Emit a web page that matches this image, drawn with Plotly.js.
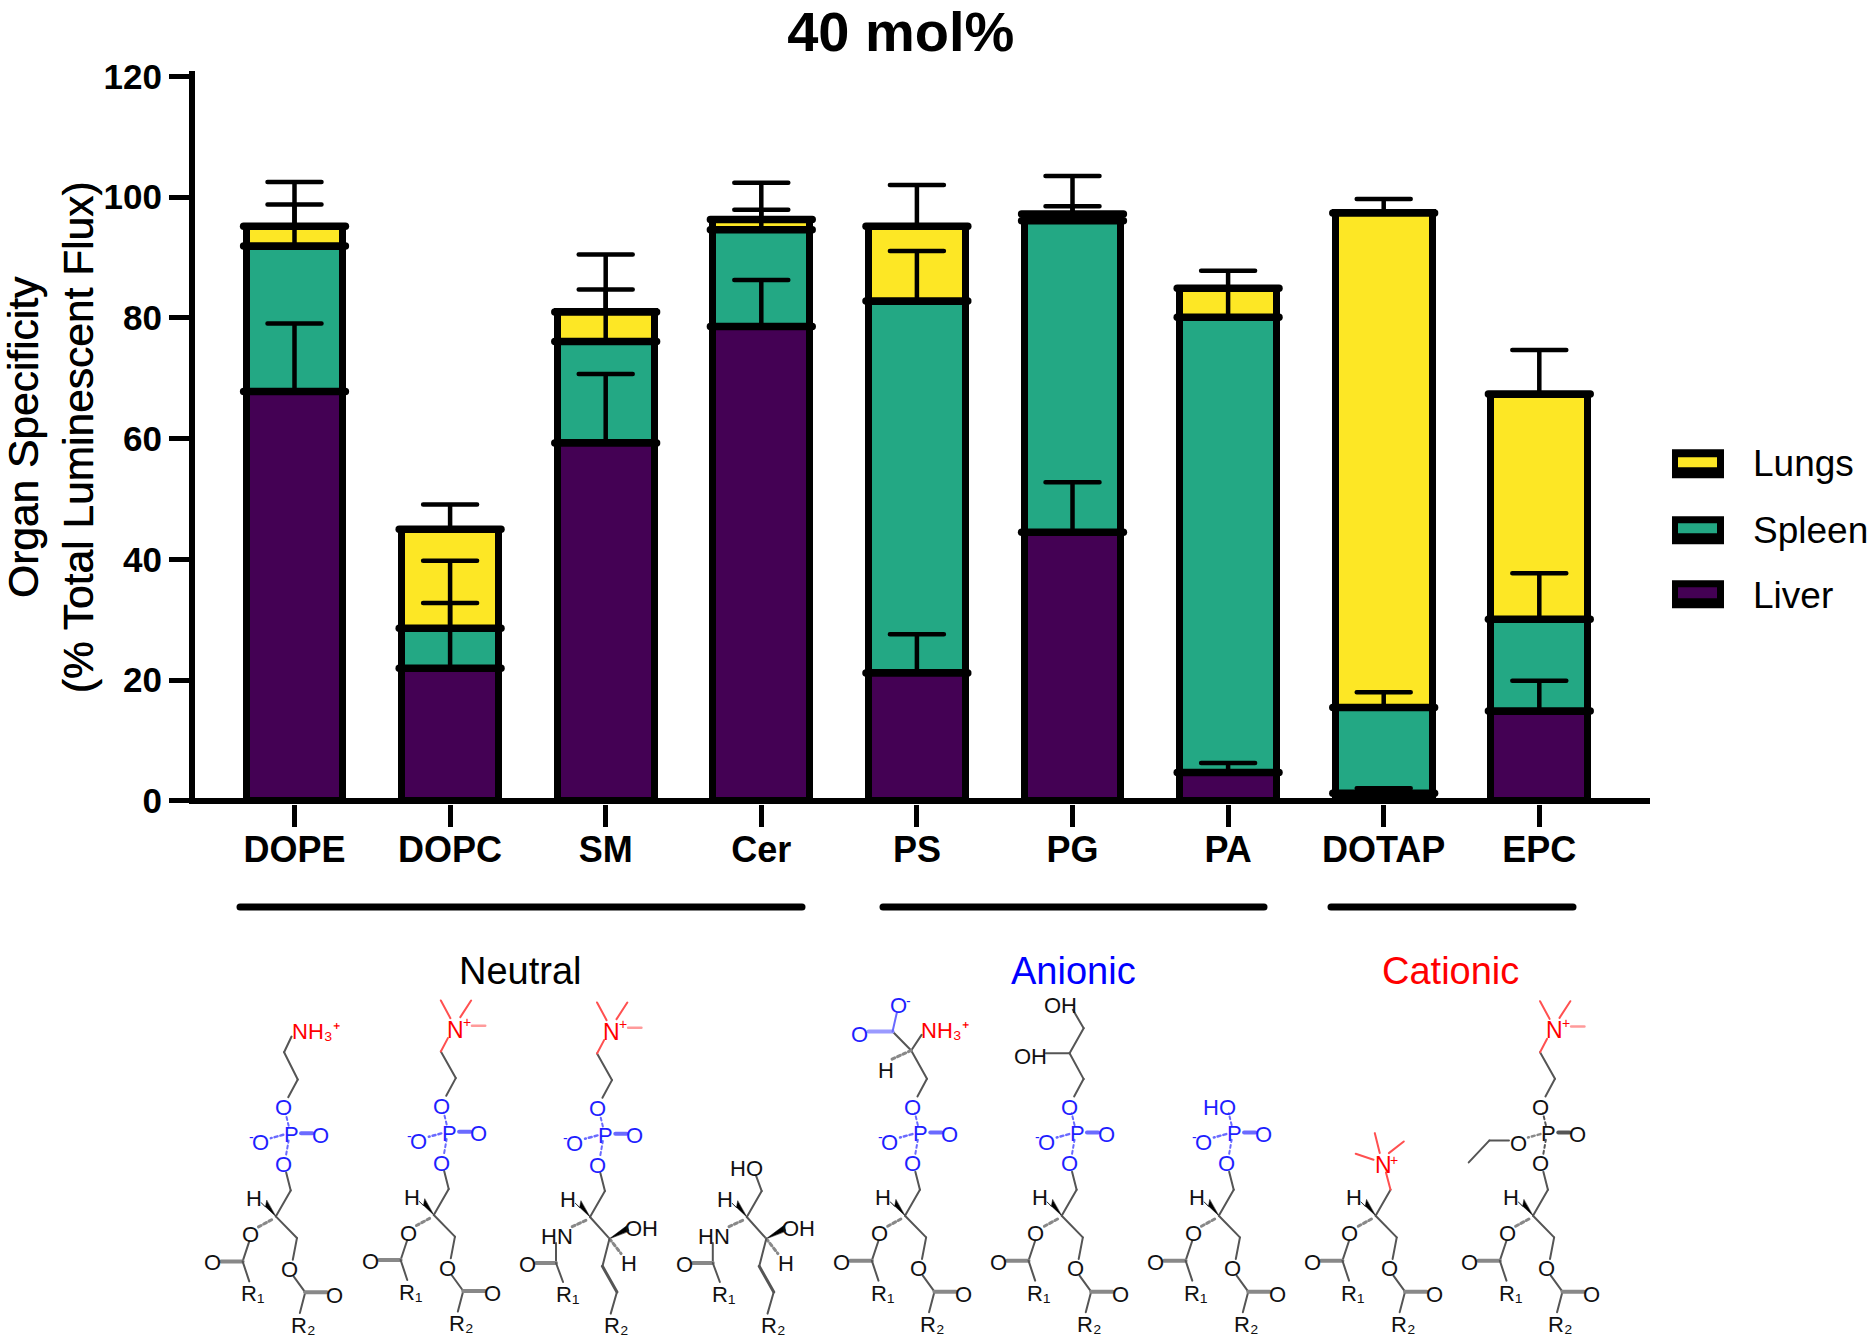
<!DOCTYPE html>
<html><head><meta charset="utf-8">
<script src="https://cdn.plot.ly/plotly-3.0.1.min.js"></script>
<style>
html,body{margin:0;padding:0;background:#fff}
.scatterlayer .js-line{stroke-linecap:round}
.errorbar path{stroke-linecap:round}
.shapelayer path{stroke-linecap:round}
</style></head><body>
<div id="chart" style="width:1874px;height:1338px"></div>
<script>
const categories=['DOPE','DOPC','SM','Cer','PS','PG','PA','DOTAP','EPC'];
const liver =[67.8,22.0,59.3,78.6,21.2,44.5,4.7,1.3,14.9];
const spleen=[24.1,6.6,16.8,16.0,61.6,51.6,75.4,14.2,15.2];
const lungs =[3.3,16.4,4.9,1.7,12.4,1.1,4.8,81.9,37.3];
const liverErr =[11.3,10.8,11.4,7.7,6.4,8.3,1.6,0.8,5.0];
const spleenErr=[6.9,11.2,8.6,3.3,8.3,2.4,4.9,2.5,7.6];
const lungsErr =[7.3,4.1,9.5,6.1,6.8,6.3,2.9,2.3,7.3];
const yTicks=[0,20,40,60,80,100,120];
const colors={Liver:'#440154',Spleen:'#23a884',Lungs:'#fde725'};
const FONT='"Liberation Sans",Arial,sans-serif';

/* plot box in page pixels */
const L=195,R=1650,T=70.5,B=804;
const px=x=>(x-L)/(R-L), py=y=>(B-y)/(B-T);
const shapes=[],annotations=[];
function line(x0,y0,x1,y1,color,width,dash){
  shapes.push({type:'line',xref:'paper',yref:'paper',x0:px(x0),y0:py(y0),x1:px(x1),y1:py(y1),
    line:{color:color,width:width,dash:dash||'solid'}});
}
function rect(x0,y0,x1,y1,fill){
  shapes.push({type:'rect',xref:'paper',yref:'paper',x0:px(x0),y0:py(y0),x1:px(x1),y1:py(y1),
    fillcolor:fill,line:{width:0}});
}
function tri(p,fill){
  shapes.push({type:'path',xref:'paper',yref:'paper',fillcolor:fill,line:{color:fill,width:0.5},
    path:'M'+p.map(q=>px(q[0])+','+py(q[1])).join('L')+'Z'});
}
function text(t,x,y,size,color,anchor){
  annotations.push({text:t,xref:'paper',yref:'paper',x:px(x),y:py(y),showarrow:false,
    xanchor:anchor||'center',yanchor:'middle',font:{family:FONT,size:size,color:color||'#000'},borderpad:0,borderwidth:0});
}

/* legend */
[['Lungs',449,478,457,467,463],['Spleen',516,544,523,533,530],['Liver',580,608,587,598,595]].forEach(l=>{
  rect(1672,l[1],1724,l[2],'#000');
  rect(1678,l[3],1717,l[4],colors[l[0]]);
  text(l[0],1753,l[5],37,'#000','left');
});

/* class bars and labels */
[[240,802,'Neutral',520,'#000'],[883,1264,'Anionic',1073,'#0000ff'],[1331,1573,'Cationic',1450,'#ff0000']].forEach(g=>{
  line(g[0],907,g[1],907,'#000',7);
  text(g[2],g[3],971,38,g[4]);
});

/* chemical structures */
const GR='#555',BL='#6a6aff',RD='#ff5050',LB='#1f1fff',LR='#ff0000',LK='#111';
function mol(cx,cy,o){
  const X=d=>cx+d/2.412,Y=d=>cy+d/3;
  const b=(a,c,d,e,col,w,dash)=>line(X(a),Y(c),X(d),Y(e),col||GR,w||2,dash);
  const t=(s,a,c,col,size,anc)=>text(s,X(a),Y(c)+1.5,size||22,col||LK,anc);
  /* shared */
  b(0,0,36,-78);
  tri([[X(0),Y(0)],[X(-36),Y(-42)],[X(-25),Y(-28)],[X(-22),Y(-48)]],'#000');
  t('H',-52,-58);
  if(o.back==='sph'){
    b(-10,10,-45,30,'#888',3,'dot');
    t('HN',-80,55);
    b(-82,78,-82,138);
    b(-82,138,-130,138,'#888',4);
    t('O',-150,138);
    b(-82,138,-65,195);
    t('R₁',-55,228);
    b(0,0,47,65);
    tri([[X(47),Y(65)],[X(90),Y(25)],[X(94),Y(42)]],'#000');
    t('OH',125,30);
    b(47,65,75,110,'#888',3,'dot');
    t('H',95,136);
    b(47,65,30,148);
    b(30,148,65,225,GR,3);
    b(65,225,50,290);
    t('R₂',63,322);
  } else {
    b(0,0,51,65);
    b(51,65,41,130);
    t('O',33,155);
    b(43,180,71,228);
    b(71,228,58,290);
    b(71,228,123,228,'#888',4);
    t('O',141,232);
    t('R₂',65,322);
    b(-10,10,-47,35,'#888',3,'dot');
    t('O',-62,50);
    b(-64,75,-80,135);
    b(-80,135,-132,135,'#888',4);
    t('O',-152,135);
    b(-80,135,-64,195);
    t('R₁',-55,228);
  }
  /* phosphate */
  if(o.phos){
    const c=o.phos==='black'?LK:LB, bc=o.phos==='black'?GR:BL;
    b(36,-78,25,-132);
    t('O',18,-160,c);
    b(25,-186,31,-228,bc,2,'dot');
    t('P',38,-250,c);
    b(61,-250,88,-250,bc,4);
    t('O',108,-248,c);
    if(o.ethyl){
      b(18,-245,-12,-235,'#888',2.5,'dot');
      t('O',-35,-221,c);
      b(-58,-226,-105,-226); b(-105,-226,-155,-160);
    } else {
      b(18,-245,-12,-235,bc,2.5,'dot');
      t('O',-37,-225,c);
      t('-',-58,-242,c,14);
    }
    b(31,-272,24,-308,bc,2,'dot');
    if(o.ho){ t('HO',1,-328,c); return finish(); }
    t('O',18,-330,c);
    b(30,-358,53,-411);
  }
  return finish();
  function finish(){
    const h=o.head;
    if(h==='PE'){
      b(53,-411,20,-493); b(20,-493,38,-540);
      t('NH₃⁺',38,-560,LR,22,'left');
    } else if(h==='PC'){
      b(53,-411,17,-491); b(17,-491,34,-531,RD);
      t('N',52,-561,LR,23);
      t('+',80,-583,LR,14);
      b(40,-591,17,-644,RD); b(64,-594,90,-644,RD);
      b(92,-568,124,-568,'#ff9a9a',2.5);
    } else if(h==='PS'){
      b(53,-411,15,-496); b(15,-496,-30,-553);
      b(15,-496,40,-543);
      b(-30,-553,-88,-553,'#9a9aff',4);
      t('O',-110,-548,LB);
      b(-30,-553,-20,-608,BL);
      t('O',-15,-636,LB);
      t('-',9,-650,LB,14);
      t('NH₃⁺',38,-560,LR,22,'left');
      b(15,-496,-35,-468,'#888',3,'dot');
      t('H',-47,-440);
    } else if(h==='PG'){
      b(53,-410,19,-488); b(19,-488,53,-563); b(53,-563,27,-618);
      t('OH',-3,-636);
      b(19,-488,-38,-488);
      t('OH',-75,-483);
    } else if(h==='Cer'){
      b(36,-78,22,-125);
      t('HO',0,-150);
    } else if(h==='TAP'){
      b(36,-78,25,-130,RD);
      t('N',18,-158,LR,23);
      t('+',45,-173,LR,14);
      b(10,-188,-2,-248,RD); b(32,-188,68,-223,RD); b(-5,-168,-48,-186,RD);
    }
  }
}
mol(275.8,1216.7,{phos:'blue',head:'PE'});
mol(433.8,1215.3,{phos:'blue',head:'PC'});
mol(590,1217.3,{phos:'blue',head:'PC',back:'sph'});
mol(746.8,1217.3,{head:'Cer',back:'sph'});
mol(905,1216,{phos:'blue',head:'PS'});
mol(1061.7,1216,{phos:'blue',head:'PG'});
mol(1218.8,1216,{phos:'blue',ho:true});
mol(1375.6,1216,{head:'TAP'});
mol(1533,1216,{phos:'black',head:'PC',ethyl:true});

/* traces */
const idx=categories.map((_,i)=>i);
const t1=liver.slice(), t2=liver.map((v,i)=>v+spleen[i]), t3=t2.map((v,i)=>v+lungs[i]);
const bar=(name,vals)=>({type:'bar',name:name,x:idx,y:vals,width:0.623,showlegend:false,
  marker:{color:colors[name],line:{color:'#000',width:7}}});
const topLine=(tops)=>{
  const x=[],y=[];
  tops.forEach((v,i)=>{x.push(i-0.327,i+0.327,null);y.push(v,v,null);});
  return {type:'scatter',mode:'lines',x:x,y:y,showlegend:false,hoverinfo:'skip',connectgaps:false,line:{color:'#000',width:7.5}};
};
const err=(name,tops,e)=>({type:'scatter',mode:'markers',name:name+' error',x:idx,y:tops,showlegend:false,
  marker:{size:1,opacity:0},error_y:{type:'data',symmetric:false,array:e,arrayminus:e.map(()=>0),color:'#000',thickness:4.5,width:27}});
const data=[bar('Liver',liver),bar('Spleen',spleen),bar('Lungs',lungs),
  err('Liver',t1,liverErr),err('Spleen',t2,spleenErr),err('Lungs',t3,lungsErr),
  topLine(t1),topLine(t2),topLine(t3)];

const layout={
  width:1874,height:1338,autosize:false,
  margin:{l:L,r:1874-R,t:T,b:1338-B,pad:0},
  paper_bgcolor:'#fff',plot_bgcolor:'#fff',
  barmode:'stack',bargap:0.377,
  font:{family:FONT,color:'#000'},
  title:{text:'<b>40 mol%</b>',x:909/1874,xanchor:'center',xref:'paper',y:1-31/1338,yanchor:'middle',yref:'container',
    font:{family:FONT,size:56,color:'#000'}},
  xaxis:{range:[(L-294.5)/155.6,(R-294.5)/155.6],tickmode:'array',tickvals:idx,ticktext:categories.map(c=>'<b>'+c+'</b>'),
    showgrid:false,zeroline:false,showline:false,ticks:'outside',ticklen:22,tickwidth:5,tickcolor:'#000',ticklabelstandoff:-8,
    tickfont:{family:FONT,size:36,color:'#000'}},
  yaxis:{range:[-0.5,120.9],tickmode:'array',tickvals:yTicks,ticktext:yTicks.map(v=>'<b>'+v+'</b>'),
    showgrid:false,zeroline:true,zerolinecolor:'#000',zerolinewidth:6,
    showline:true,linecolor:'#000',linewidth:6,ticks:'outside',ticklen:20,tickwidth:5,tickcolor:'#000',
    tickfont:{family:FONT,size:35,color:'#000'},
    title:{text:'Organ Specificity<br>(% Total Luminescent Flux)',standoff:14,font:{family:FONT,size:42.5,color:'#000',shadow:'0.6px 0 0 #000'}}},
  shapes:shapes,annotations:annotations
};
Plotly.newPlot('chart',data,layout,{displayModeBar:false});
</script></body></html>
